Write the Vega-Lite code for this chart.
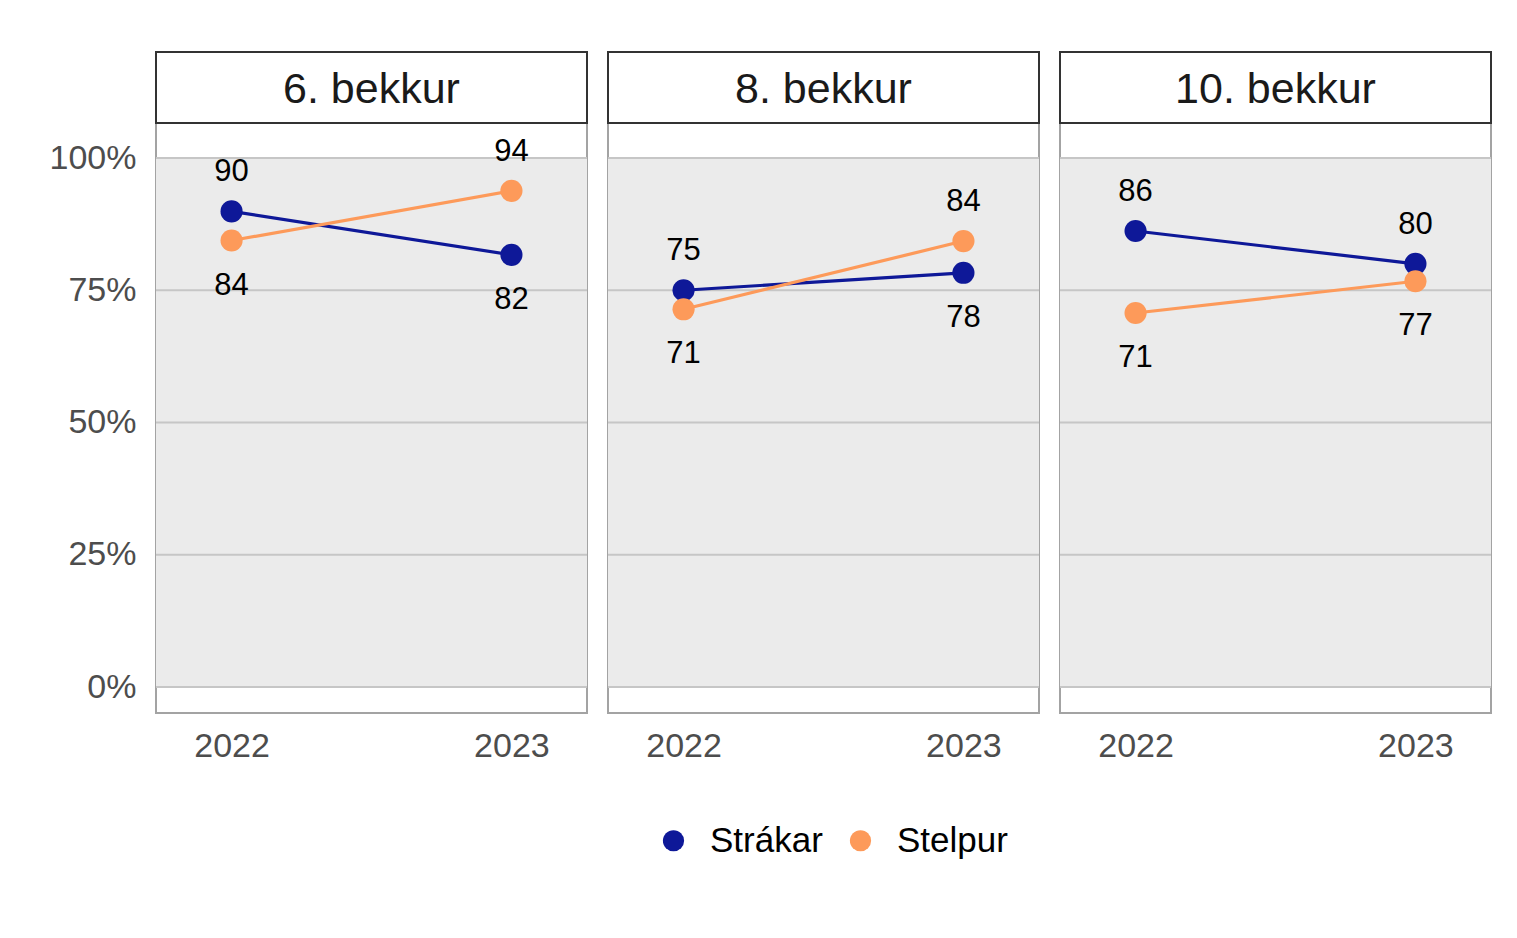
{
  "$schema": "https://vega.github.io/schema/vega-lite/v6.json",
  "padding": {"left": 49, "top": 50, "right": 20, "bottom": 20},
  "background": "white",
  "data": {"values": [
    {"grade": "6. bekkur", "year": "2022", "sex": "Strákar", "value": 89.9},
    {"grade": "6. bekkur", "year": "2022", "sex": "Stelpur", "value": 84.4},
    {"grade": "6. bekkur", "year": "2023", "sex": "Strákar", "value": 81.7},
    {"grade": "6. bekkur", "year": "2023", "sex": "Stelpur", "value": 93.8},
    {"grade": "8. bekkur", "year": "2022", "sex": "Strákar", "value": 75.0},
    {"grade": "8. bekkur", "year": "2022", "sex": "Stelpur", "value": 71.4},
    {"grade": "8. bekkur", "year": "2023", "sex": "Strákar", "value": 78.3},
    {"grade": "8. bekkur", "year": "2023", "sex": "Stelpur", "value": 84.3},
    {"grade": "10. bekkur", "year": "2022", "sex": "Strákar", "value": 86.2},
    {"grade": "10. bekkur", "year": "2022", "sex": "Stelpur", "value": 70.7},
    {"grade": "10. bekkur", "year": "2023", "sex": "Strákar", "value": 80.0},
    {"grade": "10. bekkur", "year": "2023", "sex": "Stelpur", "value": 76.7}
  ]},
  "transform": [
    {"joinaggregate": [{"op": "max", "field": "value", "as": "mx"}], "groupby": ["grade", "year"]},
    {"calculate": "datum.value == datum.mx", "as": "top"},
    {"calculate": "datum.year == '2022' && datum.sex == 'Strákar'", "as": "first"}
  ],
  "facet": {"column": {"field": "grade", "type": "nominal", "sort": ["6. bekkur", "8. bekkur", "10. bekkur"], "header": {"title": null, "labels": false}, "title": null}},
  "spacing": 17,
  "resolve": {"scale": {"x": "shared", "y": "shared"}},
  "spec": {
    "width": 431,
    "height": 661,
    "encoding": {
      "x": {"field": "year", "type": "ordinal", "scale": {"type": "point", "padding": 0.27},
        "axis": {"title": null, "labelAngle": 0, "ticks": false, "domain": false, "labelFontSize": 34, "labelColor": "#4d4d4d", "labelPadding": 15, "labelFont": "Liberation Sans"}},
      "y": {"field": "value", "type": "quantitative", "scale": {"domain": [-4.915, 120.04], "nice": false, "zero": false},
        "axis": {"title": null, "values": [0, 25, 50, 75, 100], "labelExpr": "datum.value + '%'", "grid": false, "ticks": false, "domain": false, "labelFontSize": 34, "labelColor": "#4d4d4d", "labelPadding": 18, "labelFont": "Liberation Sans"}},
      "color": {"field": "sex", "type": "nominal", "scale": {"domain": ["Strákar", "Stelpur"], "range": ["#0e1898", "#fd9a5a"]},
          "legend": {"title": null, "orient": "none", "legendX": 500, "legendY": 771, "direction": "horizontal", "labelFontSize": 35, "labelFont": "Liberation Sans", "labelColor": "#000000", "symbolSize": 450, "symbolType": "circle", "symbolStrokeWidth": 0, "labelOffset": 19, "columnPadding": 20}}
    },
    "layer": [
      {"transform": [{"filter": "datum.first"}], "mark": {"type": "rect", "fill": "#ebebeb"},
        "encoding": {"x": null, "color": null, "y": {"datum": 0, "type": "quantitative"}, "y2": {"datum": 100}}},
      {"transform": [{"filter": "datum.first"}], "mark": {"type": "rule", "stroke": "#c6c6c6", "strokeWidth": 2},
        "encoding": {"x": null, "color": null, "y": {"datum": 0, "type": "quantitative"}}},
      {"transform": [{"filter": "datum.first"}], "mark": {"type": "rule", "stroke": "#c6c6c6", "strokeWidth": 2},
        "encoding": {"x": null, "color": null, "y": {"datum": 25, "type": "quantitative"}}},
      {"transform": [{"filter": "datum.first"}], "mark": {"type": "rule", "stroke": "#c6c6c6", "strokeWidth": 2},
        "encoding": {"x": null, "color": null, "y": {"datum": 50, "type": "quantitative"}}},
      {"transform": [{"filter": "datum.first"}], "mark": {"type": "rule", "stroke": "#c6c6c6", "strokeWidth": 2},
        "encoding": {"x": null, "color": null, "y": {"datum": 75, "type": "quantitative"}}},
      {"transform": [{"filter": "datum.first"}], "mark": {"type": "rule", "stroke": "#c6c6c6", "strokeWidth": 2},
        "encoding": {"x": null, "color": null, "y": {"datum": 100, "type": "quantitative"}}},
      {"transform": [{"filter": "datum.first"}], "mark": {"type": "rect", "fill": "white", "stroke": "#333333", "strokeWidth": 2},
        "encoding": {"x": null, "color": null, "y": {"datum": 106.6, "type": "quantitative"}, "y2": {"datum": 120.04}}},
      {"transform": [{"filter": "datum.first"}], "mark": {"type": "text", "fontSize": 43, "font": "Liberation Sans", "color": "#1a1a1a", "baseline": "middle"},
        "encoding": {"x": null, "color": null, "y": {"datum": 112.9, "type": "quantitative"}, "text": {"field": "grade"}}},
      {"mark": {"type": "line", "strokeWidth": 3.2}},
      {"mark": {"type": "point", "filled": true, "size": 490, "opacity": 1}},
      {"transform": [{"filter": "datum.top"}], "mark": {"type": "text", "fontSize": 31, "font": "Liberation Sans", "color": "#000000", "dy": -39, "baseline": "middle"},
        "encoding": {"color": null, "text": {"field": "value", "type": "quantitative", "format": ".0f"}}},
      {"transform": [{"filter": "!datum.top"}], "mark": {"type": "text", "fontSize": 31, "font": "Liberation Sans", "color": "#000000", "dy": 45, "baseline": "middle"},
        "encoding": {"color": null, "text": {"field": "value", "type": "quantitative", "format": ".0f"}}}
    ]
  },
  "config": {"view": {"stroke": "#a3a3a3", "strokeWidth": 2}}
}
